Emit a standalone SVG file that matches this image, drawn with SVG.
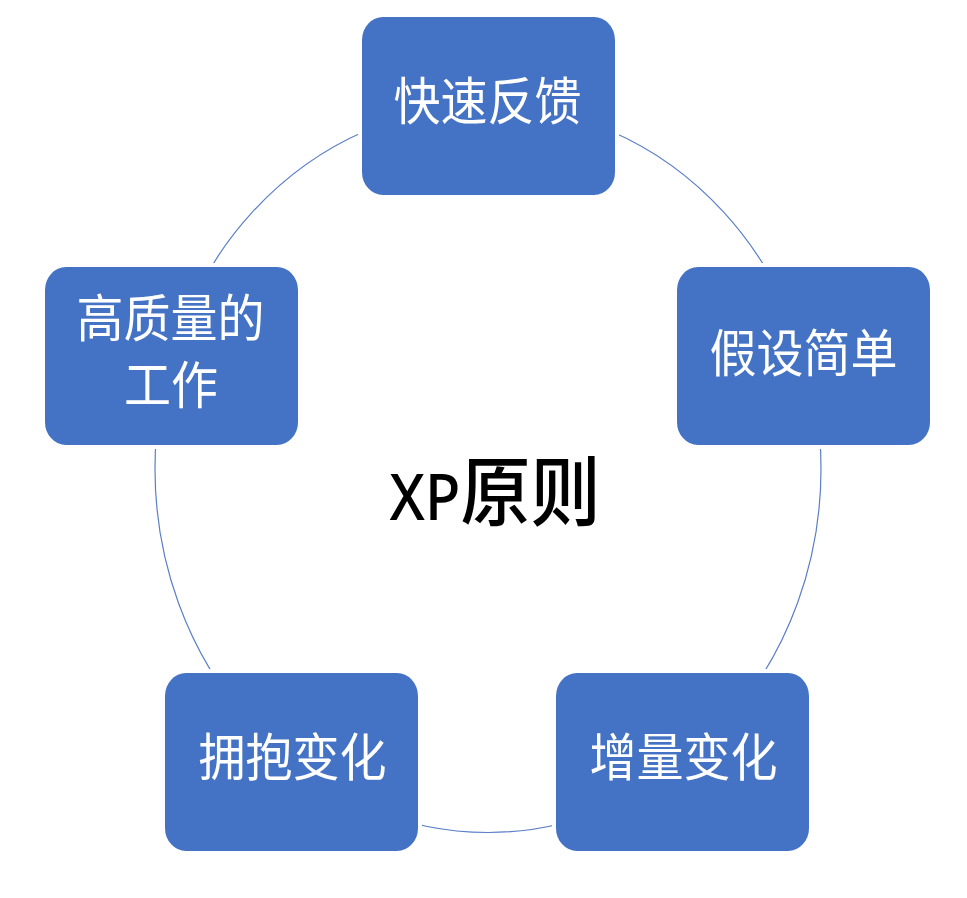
<svg xmlns="http://www.w3.org/2000/svg" width="967" height="898" viewBox="0 0 967 898">
<style>
.box{fill:#4472C4;stroke:#ffffff;stroke-width:4}
.lbl{fill:#ffffff;font-family:"Noto Sans CJK SC","Noto Sans",sans-serif;font-size:47px;text-anchor:middle}
.title{fill:#000000;font-family:"Noto Sans CJK SC","Noto Sans",sans-serif;font-size:70px;font-weight:500;text-anchor:middle}
.ring{fill:none;stroke:#5B7FC7;stroke-width:1.2}
</style>
<rect width="967" height="898" fill="#ffffff"/>
<g id="connectors">
<ellipse class="ring" cx="488" cy="469" rx="333" ry="363.5"/>
</g>
<g id="center">
<text class="title" transform="translate(495,520) scale(1,1.09)"><tspan font-family="'Noto Sans',sans-serif" font-size="58">XP</tspan>原则</text>
</g>
<g id="node-top">
<rect class="box" x="360" y="15" width="257" height="182" rx="23" ry="25"/>
<text class="lbl" transform="translate(487.5,120) scale(1,1.09)">快速反馈</text>
</g>
<g id="node-right">
<rect class="box" x="675" y="265" width="257" height="182" rx="23" ry="25"/>
<text class="lbl" transform="translate(803.5,372) scale(1,1.09)">假设简单</text>
</g>
<g id="node-left">
<rect class="box" x="43" y="265" width="257" height="182" rx="23" ry="25"/>
<text class="lbl" transform="translate(170.5,337) scale(1,1.09)">高质量的</text>
<text class="lbl" transform="translate(171,404) scale(1,1.09)">工作</text>
</g>
<g id="node-bottom-left">
<rect class="box" x="163" y="671" width="257" height="182" rx="23" ry="25"/>
<text class="lbl" transform="translate(292.5,776) scale(1,1.09)">拥抱变化</text>
</g>
<g id="node-bottom-right">
<rect class="box" x="554" y="671" width="257" height="182" rx="23" ry="25"/>
<text class="lbl" transform="translate(683.5,776) scale(1,1.09)">增量变化</text>
</g>
</svg>
